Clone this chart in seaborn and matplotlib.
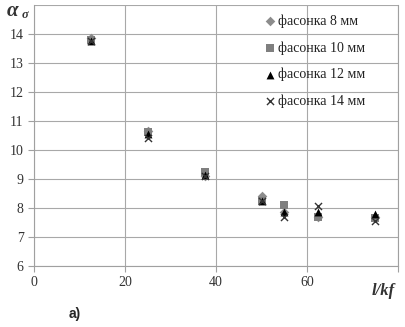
import pandas as pd
import matplotlib
matplotlib.use('Agg')
import matplotlib.pyplot as plt
import seaborn as sns

x_vals = [12.5, 25, 37.5, 50, 55, 62.5, 75]
s8 = [13.85, 10.65, 9.1, 8.4, 7.85, 7.7, 7.7]
s10 = [13.8, 10.6, 9.25, 8.25, 8.1, 7.7, 7.65]
s12 = [13.75, 10.55, 9.15, 8.25, 7.85, 7.85, 7.8]
s14 = [13.75, 10.4, 9.1, 8.25, 7.7, 8.05, 7.55]
labels = ['фасонка 8 мм', 'фасонка 10 мм', 'фасонка 12 мм', 'фасонка 14 мм']

rows = []
for lab, ys in zip(labels, [s8, s10, s12, s14]):
    for x, y in zip(x_vals, ys):
        rows.append({'x': x, 'y': y, 'series': lab})
df = pd.DataFrame(rows)

sns.set_style('white')
plt.rcParams['font.family'] = ['Liberation Serif', 'DejaVu Serif']

fig = plt.figure(figsize=(4.05, 3.27), dpi=100)
ax = fig.add_axes([0.084, 0.187, 0.899, 0.798])

colors = {labels[0]: '#8c8c8c', labels[1]: '#7f7f7f', labels[2]: '#000000', labels[3]: '#333333'}
markers = {labels[0]: 'D', labels[1]: 's', labels[2]: '^', labels[3]: 'x'}
sizes = {labels[0]: 24, labels[1]: 38, labels[2]: 32, labels[3]: 26}

for lab in labels:
    sub = df[df['series'] == lab]
    if lab == labels[3]:
        sns.scatterplot(data=sub, x='x', y='y', ax=ax, color=colors[lab], marker='x',
                        s=sizes[lab], linewidth=1.0, label=lab, zorder=3)
    else:
        sns.scatterplot(data=sub, x='x', y='y', ax=ax, color=colors[lab], marker=markers[lab],
                        s=sizes[lab], linewidth=0, label=lab, zorder=3)

ax.set_xlim(0, 80)
ax.set_ylim(6, 15)
ax.set_xticks([0, 20, 40, 60, 80])
ax.set_xticklabels(['0', '20', '40', '60', ''])
ax.set_yticks(list(range(6, 15)))
ax.grid(True, color='#a8a8a8', linewidth=0.8)
ax.axhline(15, color='#a8a8a8', linewidth=0.8)
ax.spines['top'].set_visible(False)
for side in ['left', 'bottom', 'right']:
    ax.spines[side].set_color('#a0a0a0')
    ax.spines[side].set_linewidth(0.8)
ax.tick_params(axis='both', labelsize=10, length=4, color='#a0a0a0', direction='out',
               left=True, bottom=True, labelcolor='#333333')
ax.set_xlabel('')
ax.set_ylabel('')

ax.text(-0.075, 0.975, 'α', transform=ax.transAxes, fontsize=15, fontweight='bold',
        fontstyle='italic', ha='left', va='center', color='#333333')
ax.text(-0.033, 0.962, 'σ', transform=ax.transAxes, fontsize=9, fontstyle='italic',
        fontweight='bold', ha='left', va='center', color='#333333')
ax.text(0.99, -0.095, 'l/kf', transform=ax.transAxes, fontsize=12, fontweight='bold',
        fontstyle='italic', ha='right', va='center', color='#333333')
fig.text(0.185, 0.04, 'а)', fontsize=10, fontweight='bold', family='Liberation Sans',
         ha='center', va='center')

ax.legend(loc='upper left', bbox_to_anchor=(0.615, 0.985), frameon=False, fontsize=10,
          labelspacing=0.95, handletextpad=0.15, handlelength=0.9, borderaxespad=0,
          labelcolor='#222222')

fig.savefig('out.png', dpi=100)
